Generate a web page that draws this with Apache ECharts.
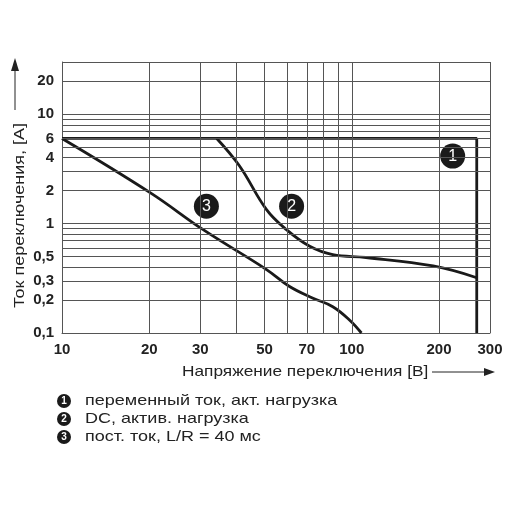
<!DOCTYPE html>
<html><head><meta charset="utf-8">
<script src="https://cdn.jsdelivr.net/npm/echarts@6/dist/echarts.min.js"></script>
<style>html,body{margin:0;background:#fff}#c{width:510px;height:510px}</style>
</head><body><div id="c"></div>
<script>
const xTicks=[10,20,30,50,70,100,200,300];
const yTicks=[0.1,0.2,0.3,0.5,1,2,4,6,10,20];
const xGrid=[20,30,40,50,60,70,80,90,100,200,300];
const yGrid=[0.2,0.3,0.4,0.5,0.6,0.7,0.8,0.9,1,2,3,4,5,6,7,8,9,10,20,30];
const curve1=[[10,6],[270,6],[270,0.1]];
const curve2=[[34.2,6],[41,3.36],[50.8,1.34],[59.5,0.88],[71.6,0.62],[86,0.52],[112,0.49],[191,0.41],[270,0.32]];
const curve3=[[10,6],[20.2,1.91],[30.7,0.88],[50.8,0.38],[61,0.266],[73.5,0.208],[86,0.174],[98.4,0.131],[108,0.1]];
const badges=[[223,4.14,'1'],[62,1.44,'2'],[31.5,1.44,'3']];
const legendTexts=['переменный ток, акт. нагрузка','DC, актив. нагрузка','пост. ток, L/R = 40 мс'];
const F='Liberation Sans, Arial, sans-serif';
const ch=echarts.init(document.getElementById('c'));
const fmt=v=>String(+v.toPrecision(3)).replace('.',',');
const ln={lineStyle:{color:'#555',width:1,type:'solid'}};
const g=[];
legendTexts.forEach((t,i)=>{
 const y=401+i*18;
 g.push({type:'circle',shape:{cx:64,cy:y,r:7},style:{fill:'#1a1a1a'}});
 g.push({type:'text',x:64,y:y,style:{text:String(i+1),fill:'#fff',font:'bold 10px '+F,align:'center',verticalAlign:'middle'}});
 g.push({type:'text',x:85,y:y,scaleX:1.2,style:{text:t,fill:'#222',font:'15px '+F,verticalAlign:'middle'}});
});
g.push({type:'text',x:182,y:372,scaleX:1.15,style:{text:'Напряжение переключения [B]',fill:'#222',font:'15px '+F,verticalAlign:'middle'}});
g.push({type:'line',shape:{x1:432,y1:372,x2:486,y2:372},style:{stroke:'#222',lineWidth:1}});
g.push({type:'polygon',shape:{points:[[495,372],[484,368],[484,376]]},style:{fill:'#222'}});
g.push({type:'text',x:20,y:308,rotation:Math.PI/2,scaleX:1.2,style:{text:'Ток переключения, [A]',fill:'#222',font:'15px '+F,verticalAlign:'middle'}});
g.push({type:'line',shape:{x1:15,y1:70,x2:15,y2:110},style:{stroke:'#222',lineWidth:1}});
g.push({type:'polygon',shape:{points:[[15,58],[11,71],[19,71]]},style:{fill:'#222'}});
ch.setOption({
 animation:false,
 grid:{left:62,right:20,top:62,bottom:177},
 graphic:g,
 xAxis:{type:'log',min:10,max:300,splitLine:{show:false},axisTick:{show:false},
  axisLine:{lineStyle:{color:'#555',width:1}},
  axisLabel:{customValues:xTicks,formatter:fmt,color:'#222',fontWeight:'bold',fontSize:15,fontFamily:F,margin:9}},
 yAxis:{type:'log',min:0.1,max:30,splitLine:{show:false},axisTick:{show:false},
  axisLine:{show:true,lineStyle:{color:'#555',width:1}},
  axisLabel:{customValues:yTicks,formatter:fmt,color:'#222',fontWeight:'bold',fontSize:15,fontFamily:F,margin:8}},
 series:[
  {type:'line',data:[],silent:true,markLine:{silent:true,symbol:'none',label:{show:false},animation:false,...ln,
    data:xGrid.map(v=>({xAxis:v})).concat(yGrid.map(v=>({yAxis:v})))}},
  {type:'line',data:curve1,symbol:'none',lineStyle:{color:'#1a1a1a',width:2.8}},
  {type:'line',data:curve2,symbol:'none',smooth:0.4,lineStyle:{color:'#1a1a1a',width:2.8}},
  {type:'line',data:curve3,symbol:'none',smooth:0.4,lineStyle:{color:'#1a1a1a',width:2.8}},
  {type:'scatter',data:badges.map(b=>[b[0],b[1],b[2]]),symbolSize:25,itemStyle:{color:'#1a1a1a',opacity:1},
   label:{show:true,position:'inside',formatter:p=>p.data[2],color:'#fff',fontSize:16,fontFamily:F}}
 ]
});
</script></body></html>
